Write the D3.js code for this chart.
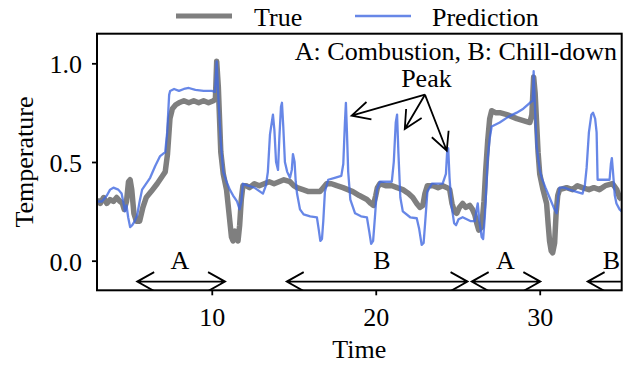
<!DOCTYPE html>
<html>
<head>
<meta charset="utf-8">
<script src="https://cdn.jsdelivr.net/npm/d3@7"></script>
<style>
  body { margin: 0; background: #fff; }
  text { font-family: "Liberation Serif", "Times New Roman", serif; fill: #000; }
</style>
</head>
<body>
<div id="chart"></div>
<script>
// measured series (time, temperature)
const trueData = [[3.0,0.31],[3.2,0.29],[3.4,0.32],[3.6,0.29],[3.8,0.31],[4.0,0.30],[4.2,0.32],[4.4,0.30],[4.55,0.29],[4.66,0.26],[4.8,0.30],[4.92,0.40],[5.02,0.41],[5.12,0.36],[5.25,0.24],[5.4,0.20],[5.6,0.20],[5.8,0.27],[6.0,0.32],[6.3,0.35],[6.67,0.39],[7.0,0.43],[7.16,0.45],[7.3,0.54],[7.45,0.72],[7.6,0.77],[7.8,0.79],[8.0,0.80],[8.3,0.81],[8.6,0.80],[8.9,0.81],[9.2,0.80],[9.5,0.81],[9.8,0.80],[10.1,0.81],[10.22,0.82],[10.3,1.01],[10.4,0.88],[10.55,0.55],[10.7,0.44],[10.9,0.36],[11.05,0.24],[11.2,0.12],[11.3,0.10],[11.42,0.15],[11.52,0.12],[11.6,0.10],[11.7,0.18],[11.8,0.31],[11.9,0.38],[12.1,0.38],[12.3,0.37],[12.6,0.39],[12.9,0.38],[13.2,0.39],[13.5,0.40],[13.8,0.39],[14.1,0.40],[14.4,0.41],[14.77,0.40],[15.0,0.38],[15.2,0.37],[15.56,0.36],[15.9,0.35],[16.3,0.35],[16.6,0.35],[16.8,0.37],[17.0,0.39],[17.3,0.39],[17.63,0.38],[18.0,0.37],[18.3,0.36],[18.6,0.35],[19.0,0.33],[19.46,0.31],[19.7,0.29],[19.85,0.28],[20.0,0.33],[20.1,0.37],[20.25,0.39],[20.6,0.38],[21.0,0.38],[21.3,0.37],[21.65,0.36],[22.0,0.34],[22.26,0.32],[22.5,0.29],[22.69,0.27],[22.87,0.28],[23.0,0.34],[23.15,0.38],[23.5,0.38],[23.8,0.37],[24.08,0.38],[24.35,0.37],[24.51,0.36],[24.65,0.29],[24.8,0.25],[24.94,0.24],[25.1,0.27],[25.3,0.29],[25.5,0.27],[25.73,0.28],[25.9,0.26],[26.05,0.23],[26.16,0.19],[26.28,0.155],[26.46,0.17],[26.6,0.30],[26.7,0.45],[26.83,0.61],[26.95,0.72],[27.07,0.76],[27.3,0.75],[27.56,0.75],[28.0,0.74],[28.3,0.73],[28.6,0.72],[29.0,0.71],[29.4,0.70],[29.52,0.74],[29.63,0.93],[29.72,0.85],[29.81,0.70],[29.9,0.55],[30.0,0.44],[30.2,0.36],[30.42,0.29],[30.52,0.18],[30.6,0.10],[30.7,0.05],[30.79,0.04],[30.91,0.09],[31.0,0.24],[31.1,0.33],[31.21,0.36],[31.64,0.37],[32.0,0.36],[32.3,0.38],[32.6,0.37],[33.0,0.36],[33.3,0.37],[33.64,0.36],[34.0,0.38],[34.44,0.39],[34.7,0.36],[34.87,0.32],[35.0,0.31]];

// model output
const predData = [[3.0,0.30],[3.3,0.30],[3.6,0.33],[3.8,0.36],[4.0,0.37],[4.3,0.36],[4.5,0.34],[4.6,0.30],[4.7,0.25],[4.8,0.28],[4.9,0.22],[5.02,0.17],[5.15,0.18],[5.3,0.20],[5.45,0.23],[5.6,0.30],[5.75,0.36],[6.24,0.42],[6.55,0.48],[6.85,0.53],[7.16,0.55],[7.28,0.65],[7.4,0.84],[7.46,0.86],[7.7,0.87],[8.0,0.86],[8.3,0.87],[8.6,0.875],[9.0,0.865],[9.5,0.86],[10.0,0.86],[10.2,0.855],[10.3,1.01],[10.42,0.80],[10.55,0.60],[10.7,0.45],[10.9,0.40],[11.1,0.36],[11.3,0.33],[11.54,0.30],[11.7,0.26],[11.8,0.30],[11.9,0.39],[12.2,0.38],[12.6,0.37],[13.12,0.34],[13.3,0.38],[13.42,0.45],[13.55,0.64],[13.73,0.74],[13.82,0.66],[13.92,0.50],[14.04,0.46],[14.12,0.62],[14.22,0.78],[14.28,0.80],[14.36,0.68],[14.46,0.50],[14.6,0.45],[14.77,0.42],[14.88,0.46],[14.95,0.54],[15.05,0.50],[15.12,0.40],[15.2,0.34],[15.38,0.26],[15.6,0.235],[16.0,0.225],[16.41,0.22],[16.52,0.16],[16.62,0.10],[16.72,0.11],[16.8,0.20],[16.9,0.35],[17.1,0.41],[17.5,0.42],[17.9,0.43],[18.02,0.49],[18.12,0.70],[18.18,0.80],[18.24,0.66],[18.32,0.45],[18.45,0.31],[18.74,0.24],[19.1,0.225],[19.46,0.22],[19.6,0.15],[19.72,0.085],[19.84,0.10],[19.95,0.22],[20.07,0.36],[20.25,0.40],[20.98,0.40],[21.1,0.50],[21.22,0.70],[21.3,0.74],[21.38,0.55],[21.5,0.32],[21.65,0.25],[22.1,0.22],[22.5,0.215],[22.65,0.16],[22.8,0.08],[22.92,0.09],[23.02,0.20],[23.15,0.35],[23.42,0.39],[24.08,0.39],[24.28,0.44],[24.36,0.56],[24.42,0.57],[24.5,0.42],[24.62,0.28],[24.78,0.19],[24.9,0.18],[25.05,0.21],[25.3,0.22],[25.55,0.21],[25.8,0.20],[26.04,0.20],[26.15,0.26],[26.22,0.29],[26.32,0.20],[26.46,0.12],[26.55,0.11],[26.65,0.22],[26.75,0.38],[26.83,0.52],[26.95,0.62],[27.07,0.68],[27.56,0.70],[28.1,0.73],[28.6,0.75],[29.0,0.77],[29.4,0.80],[29.57,0.81],[29.63,0.96],[29.7,0.80],[29.81,0.58],[30.0,0.46],[30.12,0.42],[30.35,0.37],[30.6,0.32],[30.85,0.27],[31.03,0.24],[31.12,0.32],[31.21,0.37],[31.5,0.37],[31.82,0.36],[32.2,0.35],[32.61,0.34],[32.75,0.38],[32.86,0.47],[33.0,0.65],[33.15,0.74],[33.25,0.75],[33.38,0.72],[33.47,0.65],[33.53,0.41],[33.9,0.41],[34.26,0.41],[34.34,0.49],[34.4,0.52],[34.46,0.46],[34.58,0.33],[34.68,0.29],[34.87,0.26],[35.0,0.25]];

// phase annotations along the bottom
const phaseLabels = ["A", "B", "A", "B"];
const phaseStart = [5.45, 14.57, 25.85, 32.92];
const phaseEnd = [10.81, 25.6, 30.04, 36.5];
const phaseTextX = [8.06, 20.37, 27.9, 34.38];
const phaseTextY = -0.042;
const phaseArrowY = -0.106;

// peak call-out
const peakOrigin = [23.0, 0.841];
const peakTargets = [[18.53, 0.735], [21.77, 0.667], [24.33, 0.557]];
const peakText = [23.09, 0.88];

const xTicks = [10, 20, 30];
const yTicks = [0.0, 0.5, 1.0];

const width = 624, height = 366;
const fs = 26;
const x = d3.scaleLinear().domain([3, 35]).range([97, 621.7]);
const y = d3.scaleLinear().domain([-0.15, 1.15]).range([290.3, 33.7]);

const svg = d3.select("#chart").append("svg").attr("width", width).attr("height", height);

svg.append("clipPath").attr("id", "plot")
  .append("rect")
  .attr("x", x(3)).attr("y", y(1.15))
  .attr("width", x(35) - x(3)).attr("height", y(-0.15) - y(1.15));

const line = d3.line().x(d => x(d[0])).y(d => y(d[1]));

const plot = svg.append("g").attr("clip-path", "url(#plot)");

plot.append("path")
  .datum(trueData)
  .attr("d", line)
  .attr("fill", "none")
  .attr("stroke", "#7f7f7f")
  .attr("stroke-width", 5.5)
  .attr("stroke-linejoin", "round");

plot.append("path")
  .datum(predData)
  .attr("d", line)
  .attr("fill", "none")
  .attr("stroke", "#4169e1")
  .attr("stroke-opacity", 0.8)
  .attr("stroke-width", 2.3)
  .attr("stroke-linejoin", "round");

// open arrow head at (tx,ty), pointing away from (fx,fy)
function head(tx, ty, fx, fy, len, half) {
  const a = Math.atan2(ty - fy, tx - fx);
  const bx = tx - len * Math.cos(a), by = ty - len * Math.sin(a);
  const nx = -Math.sin(a) * half, ny = Math.cos(a) * half;
  return `M${bx + nx},${by + ny}L${tx},${ty}L${bx - nx},${by - ny}`;
}

// double-headed phase arrows
phaseLabels.forEach((lab, i) => {
  const x0 = x(phaseStart[i]), x1 = x(phaseEnd[i]), yy = y(phaseArrowY);
  plot.append("path")
    .attr("d", `M${x0},${yy}L${x1},${yy}` + head(x0, yy, x1, yy, 17, 9.5) + head(x1, yy, x0, yy, 17, 9.5))
    .attr("fill", "none").attr("stroke", "#000").attr("stroke-width", 1.8);
  svg.append("text")
    .attr("x", x(phaseTextX[i])).attr("y", y(phaseTextY))
    .attr("text-anchor", "middle")
    .attr("font-size", fs)
    .text(lab);
});

// peak arrows
peakTargets.forEach(t => {
  const ox = x(peakOrigin[0]), oy = y(peakOrigin[1]);
  const tx = x(t[0]), ty = y(t[1]);
  svg.append("path")
    .attr("d", `M${ox},${oy}L${tx},${ty}` + head(tx, ty, ox, oy, 18, 9))
    .attr("fill", "none").attr("stroke", "#000").attr("stroke-width", 1.8);
});
svg.append("text")
  .attr("x", x(peakText[0])).attr("y", y(peakText[1]))
  .attr("text-anchor", "middle")
  .attr("font-size", fs)
  .text("Peak");

svg.append("text")
  .attr("x", 617).attr("y", 60)
  .attr("text-anchor", "end")
  .attr("font-size", fs)
  .text("A: Combustion, B: Chill-down");

// axes
const xAxis = svg.append("g")
  .attr("transform", `translate(0,${y(-0.15)})`)
  .call(d3.axisBottom(x).tickValues(xTicks).tickSize(5).tickPadding(12).tickFormat(d3.format("d")));
xAxis.select(".domain").remove();
xAxis.selectAll("line").attr("stroke-width", 1.8);
xAxis.selectAll("text").attr("font-size", fs).attr("fill", "#000").style("font-family", '"Liberation Serif", serif');

const yAxis = svg.append("g")
  .attr("transform", `translate(${x(3)},0)`)
  .call(d3.axisLeft(y).tickValues(yTicks).tickSize(5).tickPadding(10).tickFormat(d3.format(".1f")));
yAxis.select(".domain").remove();
yAxis.selectAll("line").attr("stroke-width", 1.8);
yAxis.selectAll("text").attr("font-size", fs).attr("dy", "0.36em").attr("fill", "#000").style("font-family", '"Liberation Serif", serif');

// frame
svg.append("rect")
  .attr("x", x(3)).attr("y", y(1.15))
  .attr("width", x(35) - x(3)).attr("height", y(-0.15) - y(1.15))
  .attr("fill", "none").attr("stroke", "#000").attr("stroke-width", 2);

svg.append("text")
  .attr("x", (x(3) + x(35)) / 2).attr("y", 358)
  .attr("text-anchor", "middle").attr("font-size", fs)
  .text("Time");

svg.append("text")
  .attr("transform", `translate(33,${(y(-0.15) + y(1.15)) / 2}) rotate(-90)`)
  .attr("text-anchor", "middle").attr("font-size", fs)
  .text("Temperature");

// legend
const legend = [{ name: "True", color: "#7f7f7f", w: 5, op: 1, x0: 176, tx: 254 },
                { name: "Prediction", color: "#4169e1", w: 2.3, op: 0.8, x0: 355, tx: 432 }];
legend.forEach(l => {
  svg.append("line")
    .attr("x1", l.x0).attr("x2", l.x0 + 56).attr("y1", 16).attr("y2", 16)
    .attr("stroke", l.color).attr("stroke-width", l.w).attr("stroke-opacity", l.op);
  svg.append("text").attr("x", l.tx).attr("y", 26).attr("font-size", fs).text(l.name);
});
</script>
</body>
</html>
